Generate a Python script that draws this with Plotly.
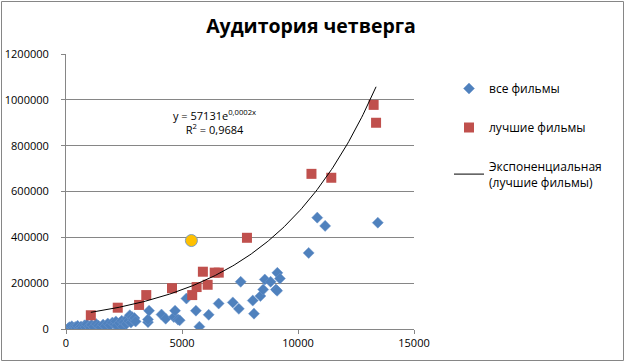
import numpy as np
import plotly.graph_objects as go

# ---- data ----
all_x = [100, 150, 200, 250, 300, 350, 400, 450, 500, 600, 650, 700, 800, 850, 900,
         1000, 1050, 1100, 1200, 1300, 1400, 1500, 1600, 1700, 1800, 1900, 2000, 2100,
         2150, 2200, 2300, 2400, 2450, 2500, 2600, 2650, 2700, 2750, 2800, 2850, 2900,
         2950, 3000, 3534, 3534, 3580, 4117, 4297, 4650, 4700, 4830, 4900, 5190, 5600,
         5750, 6150, 6580, 7190, 7450, 7530, 8050, 8103, 8380, 8500, 8570, 8820, 9050,
         9100, 9110, 9220, 10460, 10830, 11170, 13440]
all_y = [3000, 8000, 1000, 12000, 5000, 2000, 9000, 4000, 14000, 6000, 11000, 3000, 16000,
         8000, 20000, 12000, 5000, 18000, 9000, 22000, 14000, 7000, 19000, 12000, 24000,
         16000, 28000, 20000, 33000, 14000, 26000, 36000, 10000, 30000, 22000, 45000, 35000,
         60000, 28000, 52000, 40000, 48000, 33000, 30000, 42000, 80000, 63000, 45000, 52000,
         80000, 41000, 38000, 133000, 80000, 10000, 62000, 111000, 116000, 88000, 206000,
         124000, 67000, 144000, 172000, 216000, 206000, 172000, 167000, 245000, 220000,
         332000, 486000, 450000, 464000]

best_x = [1070, 2230, 3150, 3460, 4570, 5440, 5630, 5900, 6105, 6410, 6585, 7800,
          10580, 11435, 13260, 13365]
best_y = [60000, 93000, 105000, 148000, 178000, 148000, 183000, 250000, 193000, 246000,
          246000, 398000, 677000, 660000, 978000, 900000]

special_x = [5405]
special_y = [386000]

title_text = "Аудитория четверга"
name_all = "все фильмы"
name_best = "лучшие фильмы"
name_trend = "Экспоненциальная<br>(лучшие фильмы)"
eq_text = "y = 57131e<sup>0,0002x</sup><br>R<sup>2</sup> = 0,9684"

# ---- exponential trend (least squares on log y, like Excel) ----
bx = np.array(best_x, dtype=float)
by = np.array(best_y, dtype=float)
b, lna = np.polyfit(bx, np.log(by), 1)
tx = np.linspace(bx.min(), bx.max(), 200)
ty = np.exp(lna) * np.exp(b * tx)

FONT = "Open Sans"
W, H = 625, 362
L, R, T, B = 66, 211, 54, 33
pw, ph = W - L - R, H - T - B

fig = go.Figure()
fig.add_trace(go.Scatter(x=all_x, y=all_y, mode="markers", name=name_all,
                         legendgroup="a",
                         marker=dict(symbol="diamond", size=8.5, color="#4F81BD",
                                     line=dict(width=0.5, color="#6F97CC"))))
fig.add_trace(go.Scatter(x=best_x, y=best_y, mode="markers", name=name_best,
                         legendgroup="b",
                         marker=dict(symbol="square", size=10, color="#C0504D",
                                     line=dict(width=0))))
fig.add_trace(go.Scatter(x=tx, y=ty, mode="lines", name=name_trend,
                         legendgroup="c",
                         line=dict(color="black", width=1)))
fig.add_trace(go.Scatter(x=special_x, y=special_y, mode="markers", showlegend=False,
                         marker=dict(symbol="circle", size=12, color="#FFC000",
                                     line=dict(width=1, color="#7F9DB9"))))

fig.add_annotation(x=6410, y=902000, xref="x", yref="y", text=eq_text, showarrow=False,
                   align="center", font=dict(family=FONT, size=11, color="black"))

# outer chart border
fig.add_shape(type="rect", xref="paper", yref="paper",
              x0=(1.5 - L) / pw, x1=(W - 1.5 - L) / pw,
              y0=-(B - 1.5) / ph, y1=1 + (T - 1.5) / ph,
              line=dict(color="#868686", width=1), layer="below")

fig.update_layout(
    width=W, height=H,
    margin=dict(l=L, r=R, t=T, b=B, autoexpand=False),
    paper_bgcolor="white", plot_bgcolor="white",
    font=dict(family=FONT, size=11, color="black"),
    title=dict(text="<b>" + title_text + "</b>", x=311 / W, xanchor="center",
               y=1 - 26 / H, yanchor="middle", font=dict(family=FONT, size=19.5, color="black")),
    showlegend=True,
    legend=dict(x=(449 - L) / pw, y=(329 - 74) / ph, xanchor="left", yanchor="top",
                font=dict(family=FONT, size=12, color="black"),
                traceorder="grouped", tracegroupgap=20, bgcolor="rgba(0,0,0,0)"),
    xaxis=dict(range=[0, 15000], dtick=5000, tick0=0, showgrid=False, zeroline=False,
               showline=True, linecolor="#868686", linewidth=1, automargin=False,
               ticks="outside", ticklen=4, tickcolor="#868686", tickformat="d",
               tickfont=dict(family=FONT, size=11, color="black")),
    yaxis=dict(range=[0, 1200000], dtick=200000, tick0=0, showgrid=True,
               gridcolor="#868686", gridwidth=1, zeroline=False,
               showline=True, linecolor="#868686", linewidth=1, automargin=False,
               ticks="outside", ticklen=4, tickcolor="#868686",
               tickformat="d", ticklabelstandoff=10,
               tickfont=dict(family=FONT, size=11, color="black")),
)

fig.write_html("out.html", config={"displayModeBar": False},
               post_script="document.body.style.margin='0';")
